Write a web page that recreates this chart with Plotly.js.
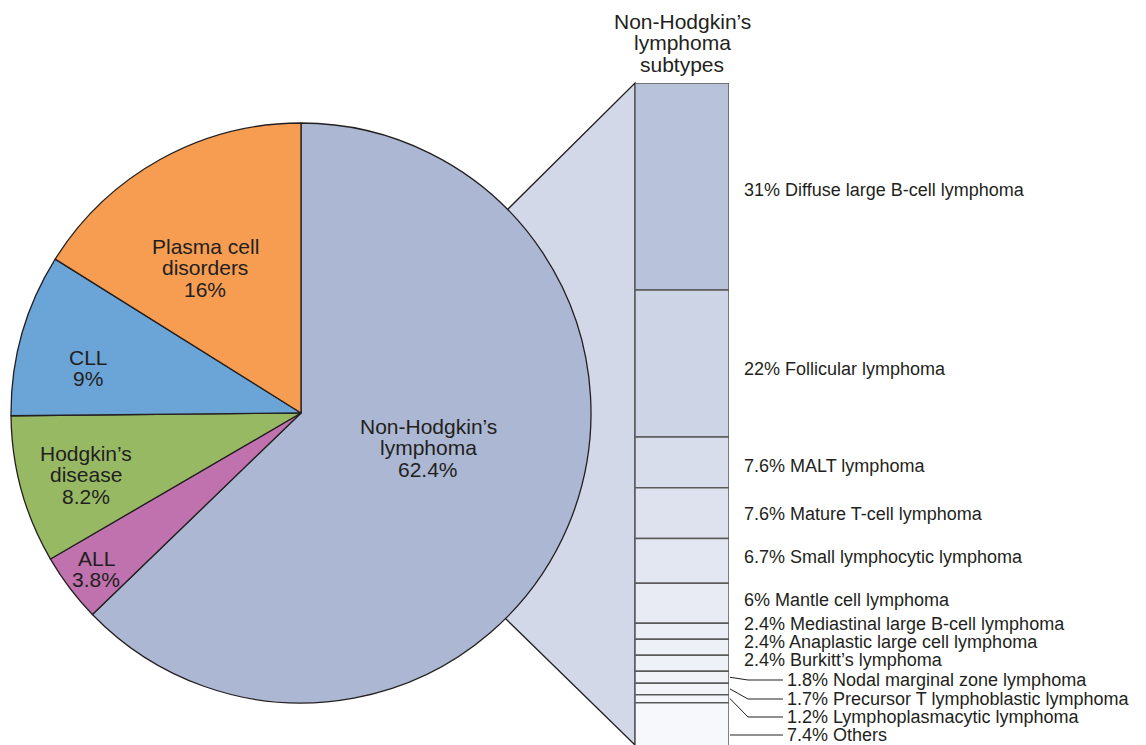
<!DOCTYPE html>
<html>
<head>
<meta charset="utf-8">
<script src="https://cdn.plot.ly/plotly-3.0.1.min.js"></script>
<style>html,body{margin:0;padding:0;background:#fff;}#chart{width:1146px;height:745px;}</style>
</head>
<body>
<div id="chart"></div>
<script>
// ---- data ----
const pieCategories = ["Non-Hodgkin’s lymphoma", "ALL", "Hodgkin’s disease", "CLL", "Plasma cell disorders"];
const pieLabelLines = [["Non-Hodgkin’s", "lymphoma"], ["ALL"], ["Hodgkin’s", "disease"], ["CLL"], ["Plasma cell", "disorders"]];
const pieValues = [62.4, 3.8, 8.2, 9, 16];

const subtypeNames = ["Diffuse large B-cell lymphoma", "Follicular lymphoma", "MALT lymphoma",
  "Mature T-cell lymphoma", "Small lymphocytic lymphoma", "Mantle cell lymphoma",
  "Mediastinal large B-cell lymphoma", "Anaplastic large cell lymphoma", "Burkitt’s lymphoma",
  "Nodal marginal zone lymphoma", "Precursor T lymphoblastic lymphoma", "Lymphoplasmacytic lymphoma", "Others"];
const subtypeValues = [31, 22, 7.6, 7.6, 6.7, 6, 2.4, 2.4, 2.4, 1.8, 1.7, 1.2, 7.4];
const subtypeTitle = ["Non-Hodgkin’s", "lymphoma", "subtypes"];

// ---- layout / style ----
const W = 1146, H = 745;
const X = x => x / W, Y = y => 1 - y / H;
const ink = "#231f20";
const FONT = "Liberation Sans, Arial, Helvetica, sans-serif";
const pieColors = ["#abb7d3", "#bf72ad", "#98b964", "#6ba4d6", "#f69d52"];
const pieLabelPos = [[428, 426], [96, 558], [86, 453], [88, 357], [205, 246]]; // first line centre (px)
const pieLineGap = 21.5;
const barTop = 83, barLeft = 635, barRight = 729;
const pxPerUnit = 207 / 31;
const yBottomVal = (H - barTop) / pxPerUnit;
const valToPx = v => barTop + v * pxPerUnit;
const labelYpx = [190, 369, 466, 514, 557, 600, 624, 642, 660, 680, 699, 717, 735];
const leaderFrom = 9; // labels from this index use leader lines

// cumulative bases
const bases = [];
let acc = 0;
subtypeValues.forEach(v => { bases.push(acc); acc += v; });
const total = acc;

// gradient colours per segment (light towards bottom)
const cTop = [173, 184, 213], cBot = [249, 250, 253];
const segColors = subtypeValues.map((v, i) => {
  const t = (bases[i] + v / 2) / total;
  const c = cTop.map((a, k) => Math.round(a + (cBot[k] - a) * t));
  return `rgb(${c[0]},${c[1]},${c[2]})`;
});

const traces = [
  {
    type: "pie",
    labels: pieCategories,
    values: pieValues,
    sort: false,
    direction: "clockwise",
    rotation: 0,
    textinfo: "none",
    hoverinfo: "label+value",
    marker: { colors: pieColors, line: { color: ink, width: 1.3 } },
    domain: { x: [X(11), X(591)], y: [Y(703), Y(123)] },
    showlegend: false
  },
  {
    type: "bar",
    x: subtypeValues.map(() => "NHL"),
    y: subtypeValues,
    base: bases,
    width: 1,
    text: subtypeNames,
    hoverinfo: "text+y",
    textposition: "none",
    marker: { color: segColors, line: { color: "#5a5a5a", width: 1.5 } },
    cliponaxis: false,
    showlegend: false
  }
];

const annotations = [];
// pie labels
pieLabelLines.forEach((lines, i) => {
  const all = lines.concat([pieValues[i] + "%"]);
  all.forEach((t, j) => {
    annotations.push({
      xref: "paper", yref: "paper", x: X(pieLabelPos[i][0]), y: Y(pieLabelPos[i][1] + j * pieLineGap),
      text: t, showarrow: false, xanchor: "center", yanchor: "middle",
      font: { family: FONT, size: 21, color: ink }
    });
  });
});
// title of bar
subtypeTitle.forEach((t, j) => {
  annotations.push({
    xref: "paper", yref: "paper", x: X(682), y: Y(21 + j * 21.5),
    text: t, showarrow: false, xanchor: "center", yanchor: "middle",
    font: { family: FONT, size: 21, color: ink }
  });
});
// subtype labels
const shapes = [];
subtypeNames.forEach((n, i) => {
  const lead = i >= leaderFrom;
  annotations.push({
    xref: "paper", yref: "paper", x: X(lead ? 785 : 742), y: Y(labelYpx[i]),
    text: subtypeValues[i] + "% " + n, showarrow: false, xanchor: "left", yanchor: "middle",
    font: { family: FONT, size: 18, color: ink }
  });
  if (lead) {
    const ly = labelYpx[i];
    let path;
    if (i === subtypeNames.length - 1) {
      path = `M ${X(730)} ${Y(ly)} L ${X(783)} ${Y(ly)}`;
    } else {
      const sy = valToPx(bases[i] + subtypeValues[i] / 2);
      path = `M ${X(730)} ${Y(sy)} L ${X(748)} ${Y(ly)} L ${X(783)} ${Y(ly)}`;
    }
    shapes.push({ type: "path", xref: "paper", yref: "paper", path: path, line: { color: ink, width: 1 } });
  }
});
// connector between pie and bar
shapes.unshift({
  type: "path", xref: "paper", yref: "paper", layer: "below",
  path: `M ${X(301)} ${Y(413)} L ${X(507)} ${Y(210)} L ${X(635)} ${Y(83)} L ${X(635)} ${Y(745)} L ${X(508)} ${Y(621)} Z`,
  fillcolor: "#d2d8e8", line: { color: ink, width: 1.3 }
});

const layout = {
  width: W, height: H,
  margin: { l: 0, r: 0, t: 0, b: 0 },
  paper_bgcolor: "#ffffff", plot_bgcolor: "rgba(0,0,0,0)",
  font: { family: FONT, color: ink },
  barmode: "overlay",
  xaxis: { domain: [X(barLeft), X(barRight)], range: [-0.5, 0.5], visible: false, fixedrange: true },
  yaxis: { domain: [0, Y(barTop)], range: [yBottomVal, 0], visible: false, fixedrange: true },
  annotations: annotations,
  shapes: shapes,
  showlegend: false
};

Plotly.newPlot("chart", traces, layout, { displayModeBar: false, staticPlot: true });
</script>
</body>
</html>
